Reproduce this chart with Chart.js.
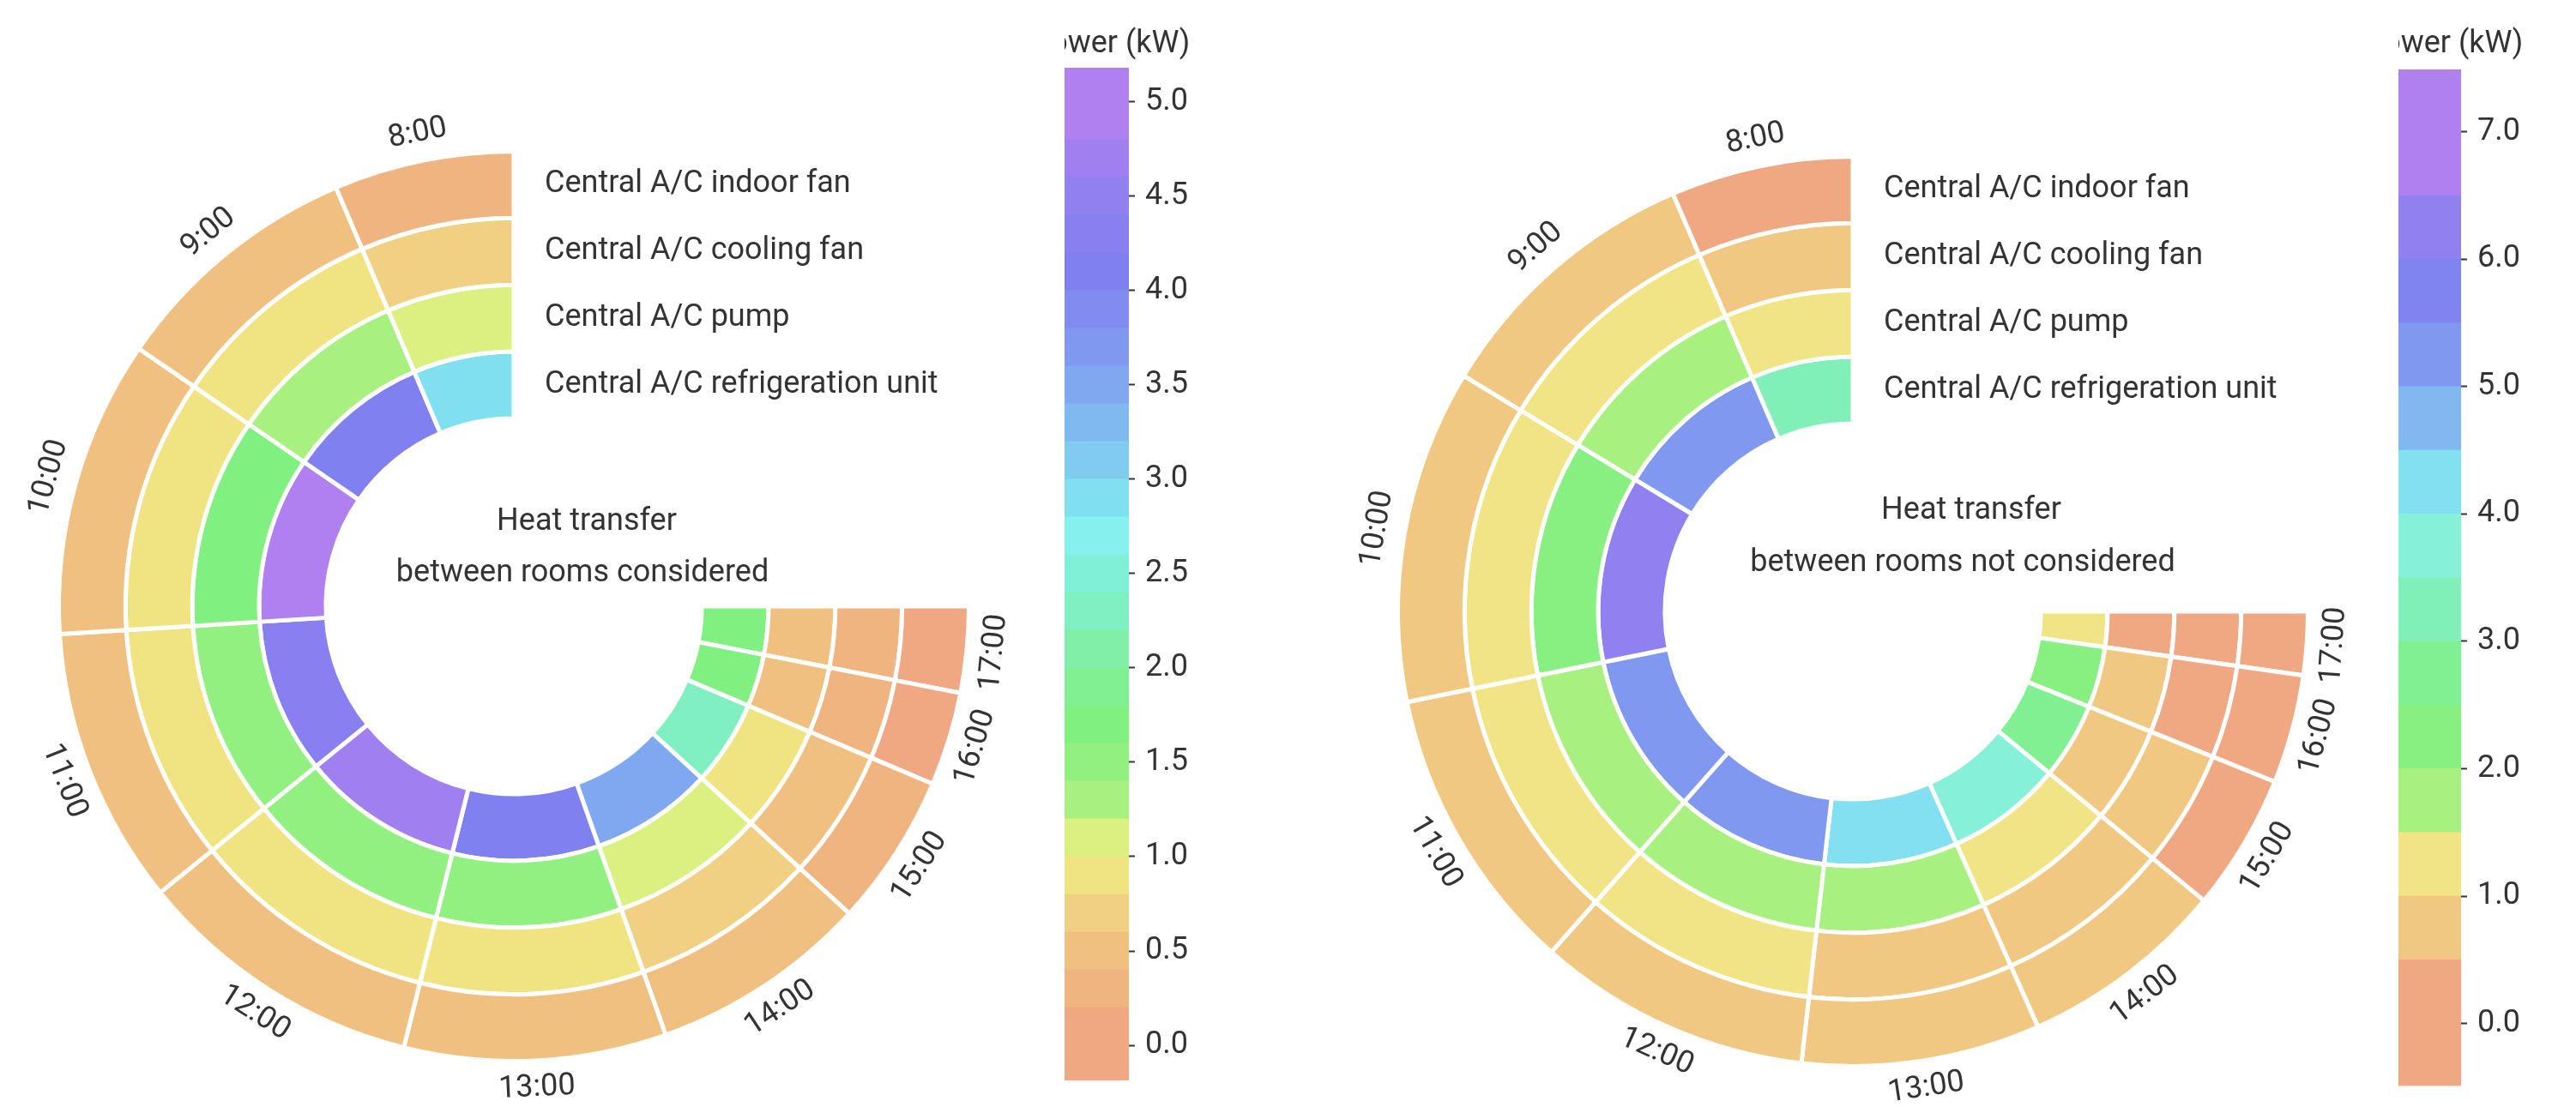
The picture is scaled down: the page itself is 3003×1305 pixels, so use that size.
<!DOCTYPE html>
<html lang="en">
<head>
  <meta charset="UTF-8" />
  <title>Central A/C power by hour</title>
  <script src="https://cdn.jsdelivr.net/npm/chart.js"></script>
  <style>
    body { margin: 0; background: #fff; width: 3003px; height: 1305px; overflow: hidden; font-family: Roboto, sans-serif; }
    .box { position: absolute; }
  </style>
</head>
<body>
  <div class="box" style="left:-101px; top:7px; width:1400px; height:1400px;"><canvas id="ringLeft"></canvas></div>
  <div class="box" style="left:1460px; top:13px; width:1400px; height:1400px;"><canvas id="ringRight"></canvas></div>
  <div class="box" style="left:1241px; top:0; width:150px; height:1300px;"><canvas id="barLeft"></canvas></div>
  <div class="box" style="left:2796px; top:0; width:160px; height:1300px;"><canvas id="barRight"></canvas></div>

  <script>
    const hours = ["8:00","9:00","10:00","11:00","12:00","13:00","14:00","15:00","16:00","17:00"];
    const rings = ["Central A/C indoor fan","Central A/C cooling fan","Central A/C pump","Central A/C refrigeration unit"];

    // angular share (degrees) of each hour
    const leftSpan  = [23, 32.5, 38, 35.5, 37, 33.5, 28, 19.5, 12, 11];
    const rightSpan = [23.3, 35.5, 42.7, 37, 35, 30.5, 26.5, 17.5, 13.9, 8.1];

    // heat transfer considered (kW), hours 8:00..17:00
    const leftIndoorFan  = [0.3, 0.5, 0.5, 0.5, 0.5, 0.5, 0.5, 0.3, 0.1, 0.1];
    const leftCoolingFan = [0.7, 0.9, 0.9, 0.9, 0.9, 0.9, 0.7, 0.5, 0.3, 0.3];
    const leftPump       = [1.1, 1.3, 1.7, 1.5, 1.5, 1.5, 1.1, 0.9, 0.5, 0.5];
    const leftRefrig     = [2.9, 4.1, 4.9, 4.3, 4.7, 4.1, 3.5, 2.3, 1.7, 1.7];

    // heat transfer not considered (kW)
    const rightIndoorFan  = [0.3, 0.8, 0.8, 0.8, 0.8, 0.8, 0.8, 0.3, 0.3, 0.3];
    const rightCoolingFan = [0.8, 1.2, 1.2, 1.2, 1.2, 0.9, 0.9, 0.8, 0.3, 0.3];
    const rightPump       = [1.3, 1.7, 2.2, 1.7, 1.7, 1.7, 1.3, 0.8, 0.8, 0.3];
    const rightRefrig     = [3.3, 5.2, 6.2, 5.2, 5.2, 4.2, 3.7, 2.7, 2.2, 1.3];

    // colour bar bins
    const leftEdges = [-0.186, 0.2, 0.4, 0.6, 0.8, 1.0, 1.2, 1.4, 1.6, 1.8, 2.0, 2.2, 2.4, 2.6, 2.8, 3.0,
                       3.2, 3.4, 3.6, 3.8, 4.0, 4.2, 4.4, 4.6, 4.8, 5.18];
    const leftColors = ["#f0a882","#f0b480","#f0c080","#f0d082","#f0e482","#dcf082","#a8f080","#92f080",
                        "#80f080","#80f092","#80f0a8","#80f0c0","#80f0d6","#86f0ee","#80e0f0","#80ccf0",
                        "#80b8f0","#80a8f0","#8098f0","#808cf0","#8080f0","#8880f0","#9080f0","#a080f0","#b080f0"];
    const rightEdges = [-0.49, 0.5, 1.0, 1.5, 2.0, 2.5, 3.0, 3.5, 4.0, 4.5, 5.0, 5.5, 6.0, 6.5, 7.49];
    const rightColors = ["#f0a882","#f0c882","#f0e484","#a8f080","#88f080","#80f092","#80f0b8","#86f0d8",
                         "#82e0f0","#82b8f0","#8098f0","#8084f0","#9080f0","#b080f0"];

    const leftTicks = [0, 0.5, 1, 1.5, 2, 2.5, 3, 3.5, 4, 4.5, 5];
    const rightTicks = [0, 1, 2, 3, 4, 5, 6, 7];

    function colorOf(edges, colors, v) {
      for (let i = 0; i < colors.length; i++) if (v < edges[i+1]) return colors[i];
      return colors[colors.length - 1];
    }

    const ink = "#333";
    const font = "36px Roboto";

    const ringText = {
      id: "ringText",
      afterDraw(chart, args, opts) {
        const ctx = chart.ctx;
        const arcs = chart.getDatasetMeta(0).data;
        const cx = arcs[0].x, cy = arcs[0].y, outer = arcs[0].outerRadius;
        ctx.save();
        ctx.fillStyle = ink;
        ctx.font = font;
        ctx.textAlign = "center"; ctx.textBaseline = "middle";
        arcs.forEach((arc, i) => {
          const th = (arc.startAngle + arc.endAngle) / 2;
          const r = outer + 32;
          let rot = th + Math.PI/2;
          while (rot > Math.PI) rot -= 2*Math.PI;
          while (rot <= -Math.PI) rot += 2*Math.PI;
          if (rot > Math.PI/2 + 0.01) rot -= Math.PI;
          if (rot < -Math.PI/2 - 0.01) rot += Math.PI;
          ctx.save();
          ctx.translate(cx + r*Math.cos(th), cy + r*Math.sin(th));
          ctx.rotate(rot);
          ctx.fillText(hours[hours.length - 1 - i], 0, 0);
          ctx.restore();
        });
        ctx.textAlign = "left";
        rings.forEach((name, d) => {
          const arc = chart.getDatasetMeta(d).data[0];
          ctx.fillText(name, cx + 36, cy - (arc.innerRadius + arc.outerRadius) / 2);
        });
        ctx.textAlign = "center";
        ctx.fillText("Heat transfer", cx + opts.x1, cy + opts.y1);
        ctx.fillText(opts.caption, cx + opts.x2, cy + opts.y2);
        ctx.restore();
      }
    };

    function ringChart(id, span, edges, colors, series, text) {
      new Chart(document.getElementById(id), {
        type: "doughnut",
        data: {
          labels: hours.slice().reverse(),
          datasets: series.map((vals, d) => ({
            label: rings[d],
            data: span.slice().reverse(),
            backgroundColor: vals.slice().reverse().map(v => colorOf(edges, colors, v)),
            borderColor: "#fff",
            borderWidth: 5
          }))
        },
        options: {
          responsive: true, maintainAspectRatio: false, animation: false,
          rotation: 90, circumference: 270, cutout: "41.3%",
          layout: { padding: 167 },
          plugins: { legend: { display: false }, tooltip: { enabled: false }, ringText: text }
        },
        plugins: [ringText]
      });
    }

    ringChart("ringLeft", leftSpan, leftEdges, leftColors,
              [leftIndoorFan, leftCoolingFan, leftPump, leftRefrig],
              { caption: "between rooms considered", x1: 85, y1: -98, x2: 80, y2: -38 });
    ringChart("ringRight", rightSpan, rightEdges, rightColors,
              [rightIndoorFan, rightCoolingFan, rightPump, rightRefrig],
              { caption: "between rooms not considered", x1: 138, y1: -117, x2: 128, y2: -56 });

    const barTitle = {
      id: "barTitle",
      afterDraw(chart) {
        const ctx = chart.ctx, a = chart.chartArea;
        ctx.save();
        ctx.fillStyle = ink; ctx.font = font;
        ctx.textAlign = "center"; ctx.textBaseline = "middle";
        ctx.fillText("Power (kW)", (a.left + a.right) / 2 + 16, 52);
        ctx.restore();
      }
    };

    function colorBar(id, edges, colors, ticks, barW, pad) {
      new Chart(document.getElementById(id), {
        type: "bar",
        data: {
          labels: [""],
          datasets: colors.map((c, i) => ({ data: [[edges[i], edges[i+1]]], backgroundColor: c,
                                            categoryPercentage: 1, barPercentage: 1 }))
        },
        options: {
          responsive: true, maintainAspectRatio: false, animation: false,
          layout: { padding: { top: pad[0], bottom: pad[1], left: 0, right: 0 } },
          plugins: { legend: { display: false }, tooltip: { enabled: false } },
          scales: {
            x: { stacked: true, display: false },
            y: {
              position: "right", min: edges[0], max: edges[edges.length - 1],
              afterBuildTicks: s => { s.ticks = ticks.map(v => ({ value: v })); },
              afterFit: s => { s.width = s.chart.width - barW; },
              border: { display: false },
              grid: { drawOnChartArea: false, color: ink, tickLength: 7, tickWidth: 2 },
              ticks: { color: ink, font: { size: 36, family: "Roboto" }, padding: 12,
                       callback: v => Number(v).toFixed(1) }
            }
          }
        },
        plugins: [barTitle]
      });
    }

    colorBar("barLeft", leftEdges, leftColors, leftTicks, 75, [79, 40]);
    colorBar("barRight", rightEdges, rightColors, rightTicks, 73, [81, 33]);
  </script>
</body>
</html>
